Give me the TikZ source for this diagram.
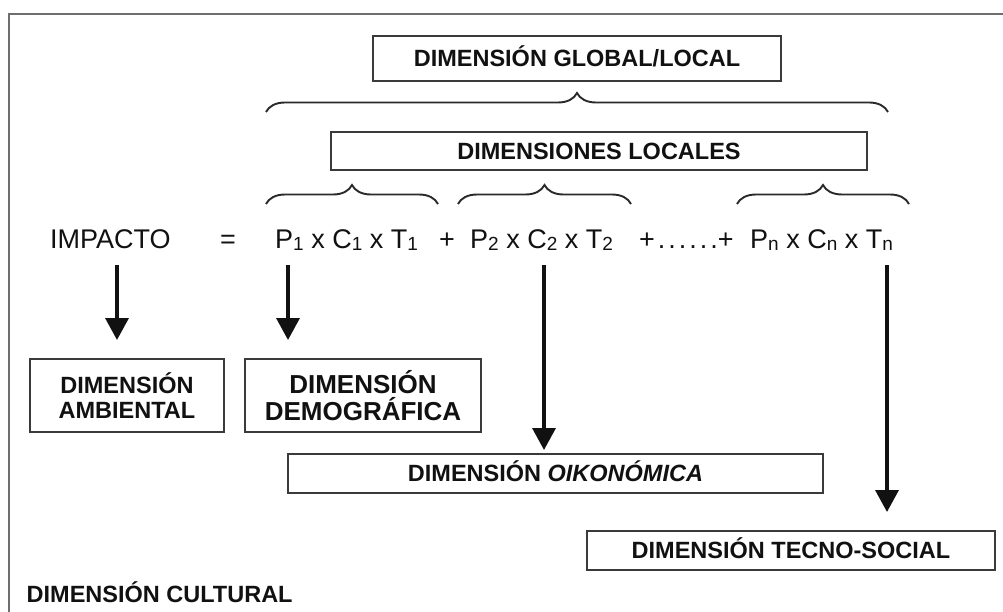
\documentclass[tikz,border=0pt]{standalone}
\usepackage{fontspec}
\setmainfont{Liberation Sans}
\usetikzlibrary{arrows.meta,decorations.pathreplacing}
\definecolor{ink}{HTML}{111111}
\definecolor{boxgray}{HTML}{3A3A3A}
\definecolor{bracegray}{HTML}{2A2A2A}
\definecolor{framegray}{HTML}{6E6E6E}
\newcommand{\lowsub}[1]{\raisebox{-2pt}{\fontsize{19}{19}\selectfont #1}}
\begin{document}
\begin{tikzpicture}[x=1pt,y=-1pt,
  box/.style={draw=boxgray, line width=1.7pt, inner sep=0pt, align=center, text=ink},
  lbl/.style={font=\fontsize{23.5}{25}\selectfont\bfseries},
  one/.style={text height=16.8pt, text depth=0pt},
  eq/.style={font=\fontsize{27}{30}\selectfont, inner sep=0pt, text=ink},
  arr/.style={line width=3.5pt, draw=ink, -{Triangle[width=23pt,length=22pt]}},
  brc/.style={draw=bracegray, line width=1.9pt, decorate, decoration={brace, amplitude=19pt}}]
\useasboundingbox (0,0) rectangle (1003,612);
\clip (0,0) rectangle (1003,612);
\fill[white] (0,0) rectangle (1003,612);
\draw[draw=framegray, line width=2.5pt] (9,14) rectangle (1030,640);

% boxes
\node[box, lbl, one, minimum width=408pt, minimum height=45pt] (glob) at (577,58.5) {DIMENSIÓN GLOBAL/LOCAL};
\node[box, lbl, one, minimum width=536pt, minimum height=38pt] (loc) at (599,151) {DIMENSIONES LOCALES};
\node[box, lbl, minimum width=194pt, minimum height=73pt] (amb) at (127,395.5) {DIMENSIÓN\\AMBIENTAL};
\node[box, font=\fontsize{26}{27}\selectfont\bfseries, minimum width=236pt, minimum height=73pt] (dem) at (363,395.5) {DIMENSIÓN\\DEMOGRÁFICA};
\node[box, lbl, one, minimum width=535pt, minimum height=39pt] (oik) at (555.5,473.5) {DIMENSIÓN \textit{OIKONÓMICA}};
\node[box, lbl, one, minimum width=408pt, minimum height=39pt] (tec) at (791,550.5) {DIMENSIÓN TECNO-SOCIAL};
\node[lbl, text=ink, inner sep=0pt, anchor=base west] (cult) at (26.5,602) {DIMENSIÓN CULTURAL};

% braces
\draw[brc] (266,112) -- (888,112);
\draw[brc] (266,204) -- (438,204);
\draw[brc] (458,204) -- (631,204);
\draw[brc] (737,204) -- (909,204);

% equation
\node[eq, anchor=base west] (imp) at (50,248) {IMPACTO};
\node[eq, anchor=base] (eqs) at (228,248) {=};
\node[eq, anchor=base west] (t1) at (275,248) {P\lowsub{1} x C\lowsub{1} x T\lowsub{1}};
\node[eq, anchor=base] (pl1) at (447,248) {+};
\node[eq, anchor=base west] (t2) at (470,248) {P\lowsub{2} x C\lowsub{2} x T\lowsub{2}};
\node[eq, anchor=base west] (dots) at (639,248) {+\kern3pt.\kern3pt.\kern3pt.\kern3pt.\kern3pt.\kern3pt.\kern0pt+};
\node[eq, anchor=base west] (tn) at (750,248) {P\lowsub{n} x C\lowsub{n} x T\lowsub{n}};

% arrows
\coordinate (a1s) at (117,265); \coordinate (a1e) at (117,340);
\coordinate (a2s) at (288,265); \coordinate (a2e) at (288,340);
\coordinate (a3s) at (544,265); \coordinate (a3e) at (544,450);
\coordinate (a4s) at (887,265); \coordinate (a4e) at (887,512);
\draw[arr] (a1s) -- (a1e);
\draw[arr] (a2s) -- (a2e);
\draw[arr] (a3s) -- (a3e);
\draw[arr] (a4s) -- (a4e);
\end{tikzpicture}
\end{document}
